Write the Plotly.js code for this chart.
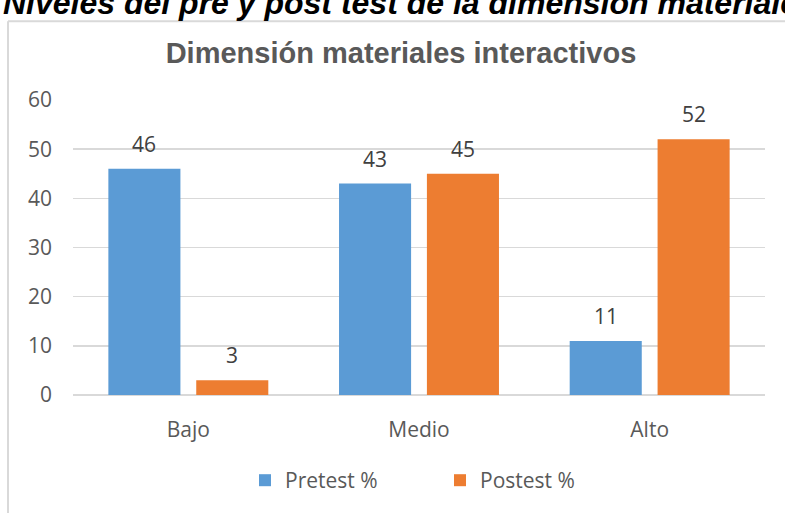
<!DOCTYPE html>
<html>
<head>
<meta charset="utf-8">
<script src="https://cdn.plot.ly/plotly-3.0.1.min.js"></script>
<style>
  html, body { margin: 0; padding: 0; background: #ffffff; }
  #chart { width: 785px; height: 513px; }
</style>
</head>
<body>
<div id="chart"></div>
<script>
// ---- data ----
const categories = ["Bajo", "Medio", "Alto"];
const pretest = [46, 43, 11];
const postest = [3, 45, 52];
const seriesNames = ["Pretest %", "Postest %"];
const yTicks = [0, 10, 20, 30, 40, 50, 60];
const chartTitle = "Dimensión materiales interactivos";
const pageTitle = "Niveles del pre y post test de la dimensión materiales interactivos";

// ---- layout helpers (pixel -> paper) ----
const W = 785, H = 513;
const M = { l: 73, r: 20, t: 100, b: 113 };
const PW = W - M.l - M.r, PH = H - M.t - M.b;
const px = x => (x - M.l) / PW;
const py = y => (H - M.b - y) / PH;

const tickFont = { family: "Open Sans, sans-serif", size: 21, color: "#595959" };
const labelFont = { family: "Open Sans, sans-serif", size: 21, color: "#404040" };

const traces = [
  { type: "bar", name: seriesNames[0], x: categories, y: pretest,
    marker: { color: "#5b9bd5", line: { width: 0 } }, hoverinfo: "skip" },
  { type: "bar", name: seriesNames[1], x: categories, y: postest,
    marker: { color: "#ed7d31", line: { width: 0 } }, hoverinfo: "skip" }
];

const annotations = [];
categories.forEach((c, i) => {
  annotations.push({ x: c, y: pretest[i], xref: "x", yref: "y", text: String(pretest[i]),
    showarrow: false, xshift: -44, yshift: 25, yanchor: "middle", font: labelFont });
  annotations.push({ x: c, y: postest[i], xref: "x", yref: "y", text: String(postest[i]),
    showarrow: false, xshift: 44, yshift: 25, yanchor: "middle", font: labelFont });
});
annotations.push({
  x: px(1), y: py(1), xref: "paper", yref: "paper", xanchor: "left", yanchor: "middle",
  text: "<b><i>" + pageTitle + "</i></b>", showarrow: false,
  font: { family: "Liberation Sans, Arial, sans-serif", size: 32, color: "#000000" }
});

const layout = {
  width: W, height: H,
  margin: M,
  paper_bgcolor: "#ffffff", plot_bgcolor: "#ffffff",
  bargap: 0.238, bargroupgap: 0.18, barmode: "group",
  title: {
    text: chartTitle,
    xref: "container", yref: "container",
    x: 401 / W, y: 1 - 53 / H, xanchor: "center", yanchor: "middle",
    font: { family: "Liberation Sans, Arial, sans-serif", size: 29, color: "#595959", weight: "bold" }
  },
  xaxis: {
    type: "category", showgrid: false, zeroline: false, showline: false,
    ticks: "", tickfont: tickFont, ticklabelstandoff: 20
  },
  yaxis: {
    range: [0, 60], tickvals: yTicks, ticktext: yTicks.map(String),
    showgrid: true, gridcolor: "#d9d9d9", gridwidth: 1.5,
    zeroline: true, zerolinecolor: "#d9d9d9", zerolinewidth: 2,
    showline: false, ticks: "", tickfont: tickFont, ticklabelstandoff: 20
  },
  showlegend: true,
  legend: {
    orientation: "h", x: px(245), xanchor: "left", y: py(487), yanchor: "middle",
    font: { family: "Open Sans, sans-serif", size: 21, color: "#595959" },
    entrywidth: 150, bgcolor: "rgba(0,0,0,0)", borderwidth: 0
  },
  annotations: annotations,
  shapes: [
    { type: "line", xref: "paper", yref: "paper", x0: px(8), x1: px(800), y0: py(20), y1: py(20),
      line: { color: "#d9d9d9", width: 2 } },
    { type: "line", xref: "paper", yref: "paper", x0: px(8), x1: px(8), y0: py(20), y1: py(530),
      line: { color: "#d9d9d9", width: 2 } }
  ]
};

Plotly.newPlot("chart", traces, layout, { displayModeBar: false, staticPlot: true });
</script>
</body>
</html>
